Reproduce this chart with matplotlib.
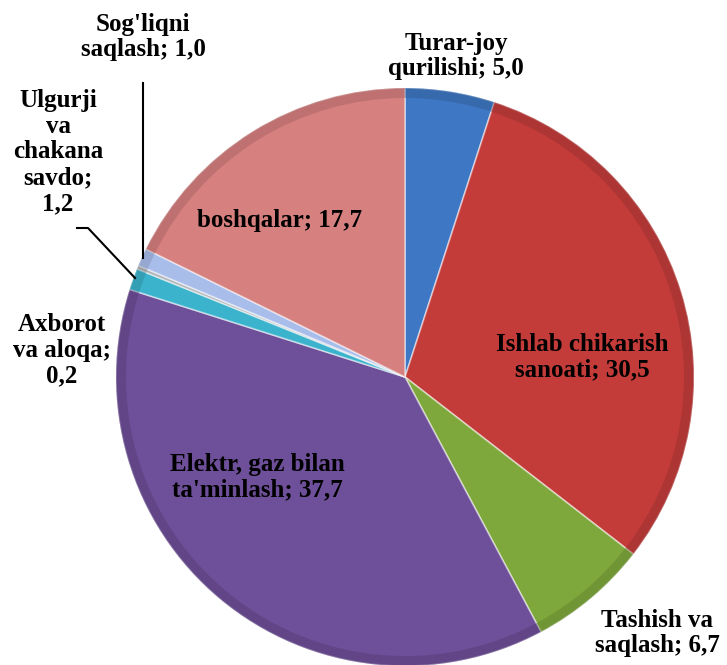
import numpy as np
import matplotlib.pyplot as plt
from matplotlib.colors import to_rgb

labels = ["Turar-joy\nqurilishi; 5,0", "Ishlab chikarish\nsanoati; 30,5",
          "Tashish va\nsaqlash; 6,7", "Elektr, gaz bilan\nta'minlash; 37,7",
          "Ulgurji\nva\nchakana\nsavdo;\n1,2", "Axborot\nva aloqa;\n0,2",
          "Sog'liqni\nsaqlash; 1,0", "boshqalar; 17,7"]
values = [5.0, 30.5, 6.7, 37.7, 1.2, 0.2, 1.0, 17.7]
colors = ["#3E78C4", "#C43C3A", "#7FA83C", "#6E4F99",
          "#3BB3CC", "#B0B4B8", "#A9BDEB", "#D6807F"]

W, H = 727, 665
fig = plt.figure(figsize=(W / 100, H / 100), dpi=100)
ax = fig.add_axes([0, 0, 1, 1])
ax.set_xlim(0, W)
ax.set_ylim(0, H)
ax.axis('off')

cx, cy, r = 405, H - 377, 289

ax.pie(values, colors=colors, startangle=90, counterclock=False,
       center=(cx, cy), radius=r, frame=True,
       wedgeprops=dict(edgecolor=(1, 1, 1, 0.5), linewidth=1.2))

# darker bevel rim on the outer edge
dark = [tuple(c * 0.75 for c in to_rgb(col)) for col in colors]
ax.pie(values, colors=dark, startangle=90, counterclock=False,
       center=(cx, cy), radius=r, frame=True,
       wedgeprops=dict(width=10, alpha=0.45, linewidth=0))
ax.set_xlim(0, W)
ax.set_ylim(0, H)
ax.set_aspect('equal')
ax.axis('off')

# label positions in pixels from the top-left corner
label_pos = [(456, 56), (582, 357), (657, 633), (257, 477),
             (58, 152), (62, 350), (143, 37), (280, 220)]
font = dict(family=['Liberation Serif', 'DejaVu Serif'], fontweight='bold',
            fontsize=18, color='black', ha='center', va='center',
            linespacing=1.15)
for lab, (x, y) in zip(labels, label_pos):
    ax.text(x, H - y, lab, **font)

# leader lines
ax.plot([143, 143], [H - 83, H - 258], color='black', lw=1.5)
ax.plot([77, 88, 135], [H - 228, H - 228, H - 278], color='black', lw=1.5)

fig.savefig("out.png", dpi=100)
